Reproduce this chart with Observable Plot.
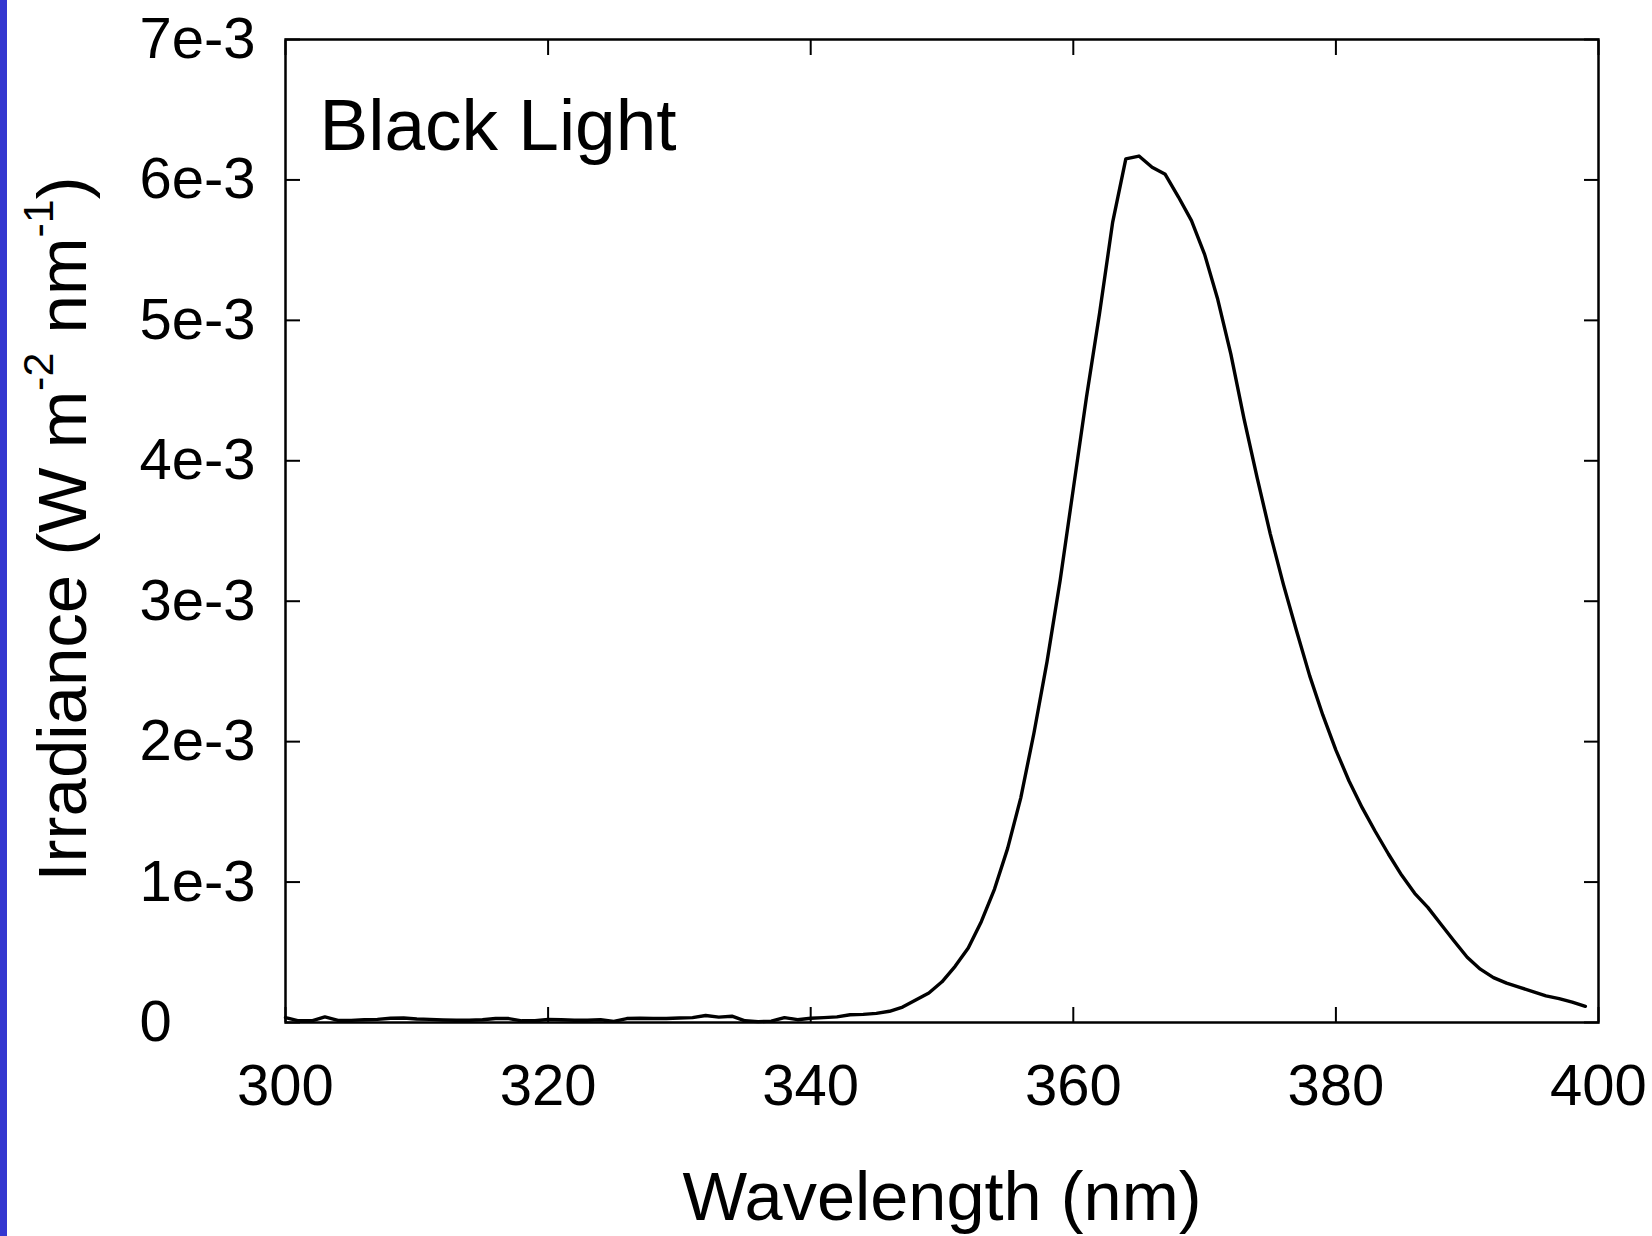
<!DOCTYPE html>
<html><head><meta charset="utf-8">
<script src="https://cdn.jsdelivr.net/npm/d3@7"></script>
<script src="https://cdn.jsdelivr.net/npm/@observablehq/plot@0.6"></script>
<style>
html,body{margin:0;padding:0;background:#fff;}
#wrap{position:relative;width:1652px;height:1236px;overflow:hidden;background:#fff;}
#strip{position:absolute;left:0;top:0;width:7px;height:1236px;background:#3437d0;}
#chart{position:absolute;left:0;top:0;}
</style></head><body>
<div id="wrap"><div id="chart"></div><div id="strip"></div></div>
<script>
// Wavelength (nm)
const wavelength = [
  300,301,302,303,304,305,306,307,308,309,
  310,311,312,313,314,315,316,317,318,319,
  320,321,322,323,324,325,326,327,328,329,
  330,331,332,333,334,335,336,337,338,339,
  340,341,342,343,344,345,346,347,348,349,
  350,351,352,353,354,355,356,357,358,359,
  360,361,362,363,364,365,366,367,368,369,
  370,371,372,373,374,375,376,377,378,379,
  380,381,382,383,384,385,386,387,388,389,
  390,391,392,393,394,395,396,397,398,399
];
// Irradiance (W m-2 nm-1)
const irradiance = [
  0.035e-3,0.012e-3,0.012e-3,0.040e-3,0.015e-3,0.015e-3,0.020e-3,0.022e-3,0.030e-3,0.032e-3,
  0.025e-3,0.022e-3,0.018e-3,0.016e-3,0.016e-3,0.020e-3,0.028e-3,0.028e-3,0.012e-3,0.012e-3,
  0.022e-3,0.020e-3,0.016e-3,0.016e-3,0.020e-3,0.008e-3,0.028e-3,0.030e-3,0.028e-3,0.028e-3,
  0.032e-3,0.035e-3,0.050e-3,0.038e-3,0.045e-3,0.012e-3,0.006e-3,0.010e-3,0.035e-3,0.020e-3,
  0.030e-3,0.035e-3,0.040e-3,0.055e-3,0.058e-3,0.065e-3,0.080e-3,0.110e-3,0.160e-3,0.210e-3,
  0.290e-3,0.400e-3,0.530e-3,0.720e-3,0.950e-3,1.240e-3,1.600e-3,2.060e-3,2.570e-3,3.150e-3,
  3.800e-3,4.450e-3,5.050e-3,5.700e-3,6.150e-3,6.170e-3,6.090e-3,6.040e-3,5.880e-3,5.710e-3,
  5.470e-3,5.150e-3,4.760e-3,4.300e-3,3.880e-3,3.480e-3,3.120e-3,2.790e-3,2.470e-3,2.190e-3,
  1.940e-3,1.720e-3,1.530e-3,1.360e-3,1.200e-3,1.050e-3,0.920e-3,0.820e-3,0.700e-3,0.580e-3,
  0.465e-3,0.380e-3,0.320e-3,0.280e-3,0.250e-3,0.220e-3,0.190e-3,0.170e-3,0.145e-3,0.115e-3
];
const xTicks = [300, 320, 340, 360, 380, 400];
const xTickLabels = ["300", "320", "340", "360", "380", "400"];
const yTicks = [0, 1e-3, 2e-3, 3e-3, 4e-3, 5e-3, 6e-3, 7e-3];
const yTickLabels = ["0", "1e-3", "2e-3", "3e-3", "4e-3", "5e-3", "6e-3", "7e-3"];
const panelTitle = "Black Light";
const xTitle = "Wavelength (nm)";
const yTitleParts = ["Irradiance (W m", "-2", " nm", "-1", ")"];

const data = wavelength.map((w, i) => ({w, v: irradiance[i]}));
const yTitleFull = yTitleParts.join("");
const font = "'Liberation Sans', Arial, Helvetica, sans-serif";
const blank = () => "";

const plot = Plot.plot({
  width: 1652,
  height: 1236,
  marginLeft: 285,
  marginRight: 54,
  marginTop: 39,
  marginBottom: 214,
  style: {fontFamily: font, color: "black", background: "white", overflow: "visible"},
  x: {domain: [300, 400]},
  y: {domain: [0, 0.007]},
  marks: [
    // tick labels
    Plot.axisX({anchor: "bottom", ticks: xTicks, tickSize: 0, tickPadding: 41, fontSize: 58,
      tickFormat: d => xTickLabels[xTicks.indexOf(d)], label: null}),
    Plot.axisY({anchor: "left", ticks: yTicks, tickSize: 0, tickPadding: 146, fontSize: 58, textAnchor: "start",
      tickFormat: d => yTickLabels[yTicks.findIndex(t => Math.abs(t - d) < 1e-9)], label: null}),
    // inward ticks on all four sides
    Plot.axisX({anchor: "bottom", ticks: xTicks, tickSize: -15, tickFormat: blank, label: null, strokeWidth: 2}),
    Plot.axisX({anchor: "top", ticks: xTicks, tickSize: -15, tickFormat: blank, label: null, strokeWidth: 2}),
    Plot.axisY({anchor: "left", ticks: yTicks, tickSize: -15, tickFormat: blank, label: null, strokeWidth: 2}),
    Plot.axisY({anchor: "right", ticks: yTicks, tickSize: -15, tickFormat: blank, label: null, strokeWidth: 2}),
    Plot.line(data, {x: "w", y: "v", stroke: "black", strokeWidth: 3.4}),
    Plot.frame({stroke: "black", strokeWidth: 2.5}),
    Plot.text([panelTitle], {frameAnchor: "top-left", dx: 34, dy: 59, lineAnchor: "top", textAnchor: "start", fontSize: 73, fill: "black"}),
    Plot.text([xTitle], {frameAnchor: "bottom", dy: 197, lineAnchor: "bottom", fontSize: 68.5, fill: "black"}),
    Plot.text([yTitleFull], {frameAnchor: "left", dx: -200, dy: -2, rotate: -90, lineAnchor: "bottom", textAnchor: "middle", fontSize: 69, fill: "black"})
  ]
});
document.getElementById("chart").appendChild(plot);

// superscripts in the y-axis title
const svgNS = "http://www.w3.org/2000/svg";
plot.querySelectorAll("text").forEach(t => {
  if (t.textContent === yTitleFull) {
    t.textContent = "";
    yTitleParts.forEach((part, i) => {
      const ts = document.createElementNS(svgNS, "tspan");
      ts.textContent = part;
      if (i === 1 || i === 3) {
        ts.setAttribute("font-size", "43");
        ts.setAttribute("dy", "-33");
      } else if (i === 2 || i === 4) {
        ts.setAttribute("dy", "33");
      }
      t.appendChild(ts);
    });
  }
});
</script>
</body></html>
